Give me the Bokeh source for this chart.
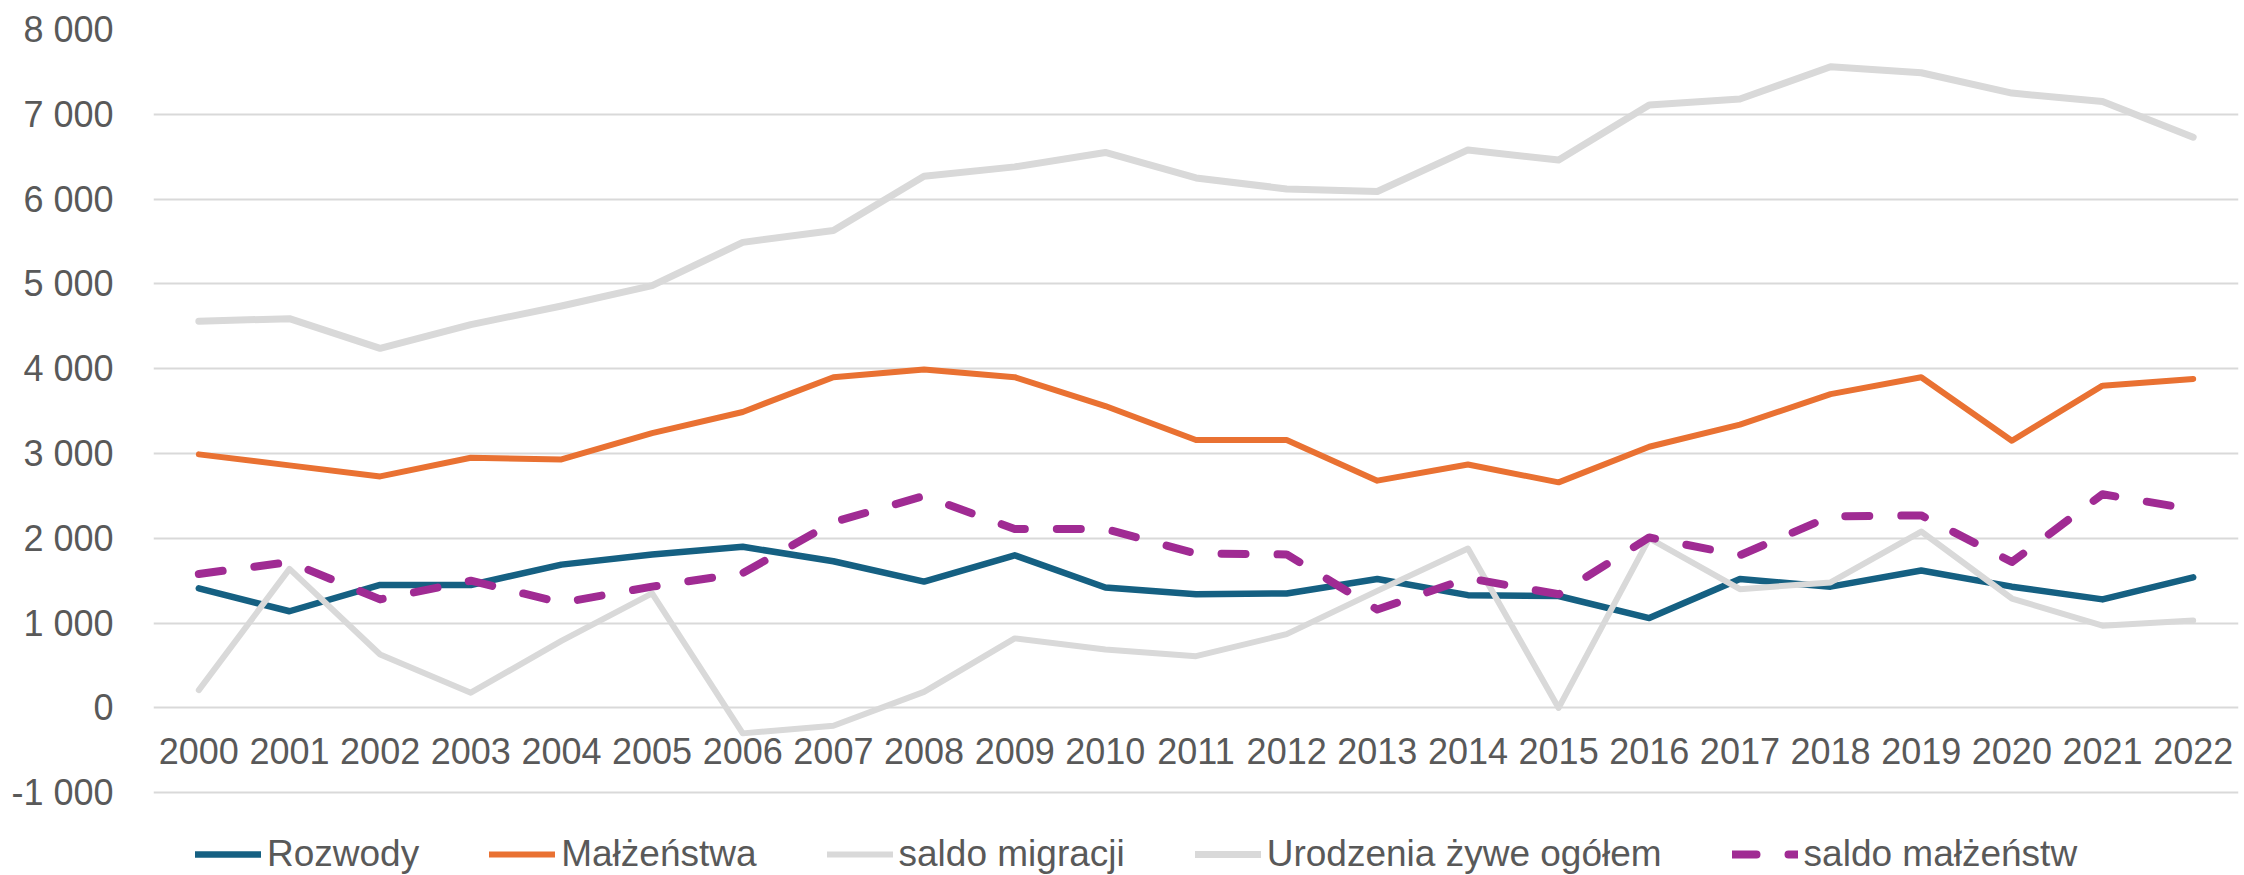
from bokeh.plotting import figure
from bokeh.models import Range1d, FixedTicker, CustomJSTickFormatter, Legend, LegendItem
from bokeh.embed import file_html
from bokeh.resources import INLINE
from bokeh.core.properties import value

years = list(range(2000, 2023))
year_labels = [str(y) for y in years]

rozwody = [1410, 1140, 1450, 1450, 1690, 1810, 1900, 1730, 1490, 1800, 1420, 1340,
           1350, 1520, 1330, 1320, 1060, 1520, 1430, 1620, 1430, 1280, 1540]
malzenstwa = [2990, 2860, 2730, 2950, 2930, 3240, 3490, 3900, 3990, 3900, 3560, 3160,
              3160, 2680, 2870, 2660, 3080, 3340, 3700, 3900, 3150, 3800, 3880]
saldo_migracji = [210, 1640, 630, 180, 790, 1350, -300, -210, 190, 820, 690, 610,
                  870, 1380, 1880, 0, 2000, 1400, 1480, 2080, 1290, 970, 1030]
urodzenia = [4560, 4590, 4240, 4520, 4740, 4980, 5490, 5630, 6270, 6380, 6550, 6250,
             6120, 6090, 6580, 6460, 7110, 7180, 7560, 7490, 7250, 7150, 6730]
saldo_malzenstw = [1580, 1720, 1280, 1500, 1240, 1430, 1590, 2190, 2500, 2110, 2110, 1820,
                   1810, 1160, 1530, 1340, 2010, 1800, 2260, 2270, 1720, 2520, 2340]

y_ticks = [-1000, 0, 1000, 2000, 3000, 4000, 5000, 6000, 7000, 8000]

FONT = "Liberation Sans"
TXT = "#595959"

p = figure(width=2244, height=875, output_backend="svg", toolbar_location=None,
           x_range=Range1d(1999.5, 2022.5), y_range=Range1d(-1976, 8000),
           x_axis_location=None,
           min_border_left=153, min_border_right=6, min_border_top=29, min_border_bottom=0)
p.outline_line_color = None
p.background_fill_color = "white"
p.border_fill_color = "white"

p.yaxis.ticker = FixedTicker(ticks=y_ticks)
p.yaxis.formatter = CustomJSTickFormatter(code=r"""
return tick.toFixed(0).replace(/\B(?=(\d{3})+(?!\d))/g, " ");
""")
p.yaxis.axis_line_color = None
p.yaxis.major_tick_line_color = None
p.yaxis.minor_tick_line_color = None
p.yaxis.major_label_text_font = FONT
p.yaxis.major_label_text_font_size = "36px"
p.yaxis.major_label_text_color = TXT
p.yaxis.major_label_standoff = 34

p.ygrid.ticker = FixedTicker(ticks=y_ticks)
p.ygrid.grid_line_color = "#D9D9D9"
p.ygrid.grid_line_width = 2
p.xgrid.visible = False

# category labels sit below the horizontal axis at 0
p.text(x=years, y=[0] * len(years), text=year_labels, text_align="center",
       text_baseline="top", y_offset=30, text_font=value(FONT),
       text_font_size="36px", text_color=TXT)

r1 = p.line(years, rozwody, line_color="#156082", line_width=6.5,
            line_join="round", line_cap="round")
r2 = p.line(years, malzenstwa, line_color="#E97132", line_width=6,
            line_join="round", line_cap="round")
r3 = p.line(years, saldo_migracji, line_color="#D9D9D9", line_width=6,
            line_join="round", line_cap="round")
r4 = p.line(years, urodzenia, line_color="#D9D9D9", line_width=7,
            line_join="round", line_cap="round")
r5 = p.line(years, saldo_malzenstw, line_color="#A02B93", line_width=8,
            line_dash="24 32", line_join="round", line_cap="round")

legend = Legend(items=[
    LegendItem(label="Rozwody", renderers=[r1]),
    LegendItem(label="Małżeństwa", renderers=[r2]),
    LegendItem(label="saldo migracji", renderers=[r3]),
    LegendItem(label="Urodzenia żywe ogółem", renderers=[r4]),
    LegendItem(label="saldo małżeństw", renderers=[r5]),
], location=(42, 0), orientation="horizontal", glyph_width=66, glyph_height=40,
    label_height=40, label_standoff=6, spacing=70, padding=0, margin=0,
    border_line_color=None, background_fill_alpha=0,
    label_text_font=FONT, label_text_font_size="37px", label_text_color=TXT)
p.add_layout(legend)

open("out.html", "w").write(file_html(p, INLINE))
